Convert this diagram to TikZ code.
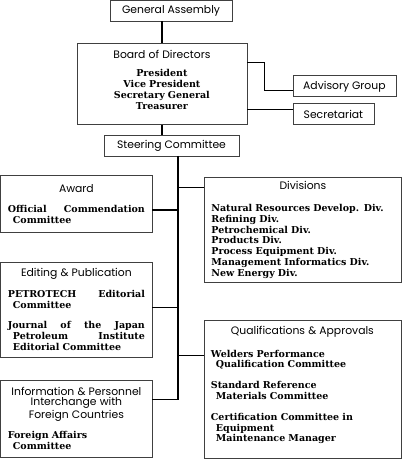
\documentclass[tikz,border=0pt]{standalone}
\usepackage{fontspec}
\setmainfont{DejaVu Serif}
\newfontfamily\headfont{Poppins}
\usetikzlibrary{positioning}

\newcommand{\tagfont}{\headfont\mdseries\fontsize{10.8bp}{12bp}\selectfont}
\newcommand{\bodyfont}{\fontsize{9.5bp}{10.8bp}\bfseries\selectfont}
\newcommand{\hd}[1]{\noindent\hbox to\hsize{\hfil\tagfont #1\hfil}}
\newcommand{\spread}[1]{\noindent\hbox to\hsize{#1}}
\newcommand{\ind}{\hspace*{5bp}}
\newcommand{\padb}[1]{\rule[-#1]{0pt}{0pt}}

\begin{document}
\begin{tikzpicture}[x=1bp, y=-1bp,
  box/.style={draw=black!75, line width=0.8bp, inner xsep=7bp, inner ysep=3bp,
    align=left, anchor=north west, font=\bodyfont},
  tag/.style={draw=black!75, line width=0.8bp, font=\tagfont, inner sep=0pt, minimum height=21bp},
  link/.style={line width=1.3bp}]
  \useasboundingbox (0,0) rectangle (418,476);
  % top of the chart
  \node[tag, minimum width=122bp] (ga) at (171,10.5) {General Assembly};
  \node[box, align=center, text width=156bp, minimum height=81bp] (bod) at (76.5,43.5)
    {\hd{Board of Directors}\\[7bp] President\\ Vice President\\ Secretary General\\ Treasurer\padb{9bp}};
  \node[tag, minimum width=103bp, anchor=north west] (adv) at (292.5,75.5) {Advisory Group};
  \node[tag, minimum width=81bp, below=6bp of adv.south west, anchor=north west] (sec) {Secretariat};
  \node[tag, minimum width=135bp] (sc) at (171.5,146) {Steering Committee};
  % committees and divisions
  \node[box, text width=137bp, minimum height=56bp] (award) at (0.5,175.5)
    {\hd{Award}\\[10bp] \spread{Official\hfill Commendation}\\ \ind Committee};
  \node[box, text width=183bp, minimum height=104bp] (div) at (204,177.5)
    {\hd{Divisions}\\[11bp] Natural Resources Develop. Div.\\ Refining Div.\\ Petrochemical Div.\\
     Products Div.\\ Process Equipment Div.\\ Management Informatics Div.\\ New Energy Div.};
  \node[box, text width=137bp, minimum height=95bp] (edit) at (0.5,261.5)
    {\hd{Editing \& Publication}\\[10bp] \spread{PETROTECH\hfill Editorial}\\ \ind Committee\\[10bp]
     \spread{Journal\hfill of\hfill the\hfill Japan}\\ \spread{\ind Petroleum\hfill Institute}\\
     \ind Editorial Committee};
  \node[box, text width=183bp, minimum height=138bp] (qual) at (203.5,319.5)
    {\hd{Qualifications \& Approvals}\\[12bp] Welders Performance\\ \ind Qualification Committee\\[10bp]
     Standard Reference\\ \ind Materials Committee\\[10bp]
     Certification Committee in\\ \ind Equipment\\ \ind Maintenance Manager\padb{10bp}};
  \node[box, text width=137bp, minimum height=77bp] (info) at (0.5,379.5)
    {\hd{Information \& Personnel}\\ \hd{Interchange with}\\ \hd{Foreign Countries}\\[10bp]
     Foreign Affairs\\ \ind Committee};
  % connectors
  \draw[link] (ga.south -| bod.north) -- (bod.north);
  \draw[link] (bod.south) -- (bod.south |- sc.north);
  \coordinate (ab) at ([yshift=-19bp]bod.north east);
  \draw[link] (ab) -- ++(17,0) |- ([yshift=-4bp]adv.west);
  \coordinate (sb) at ([yshift=5bp]sec.west);
  \draw[link] (sb) -- (sb -| bod.east);
  \coordinate (trunk) at (178,156);
  \coordinate (aw) at ([yshift=-6bp]award.east);
  \coordinate (dv) at ([yshift=-10bp]div.north west);
  \coordinate (ed) at ([yshift=2bp]edit.east);
  \coordinate (ql) at ([yshift=-36bp]qual.north west);
  \coordinate (ib) at ([yshift=-20bp]info.north east);
  \draw[link] (trunk) -- (ib -| trunk);
  \draw[link] (aw) -- (aw -| trunk);
  \draw[link] (dv) -- (dv -| trunk);
  \draw[link] (ed) -- (ed -| trunk);
  \draw[link] (ql) -- (ql -| trunk);
  \draw[link] (ib) -- (ib -| trunk);
\end{tikzpicture}
\end{document}
